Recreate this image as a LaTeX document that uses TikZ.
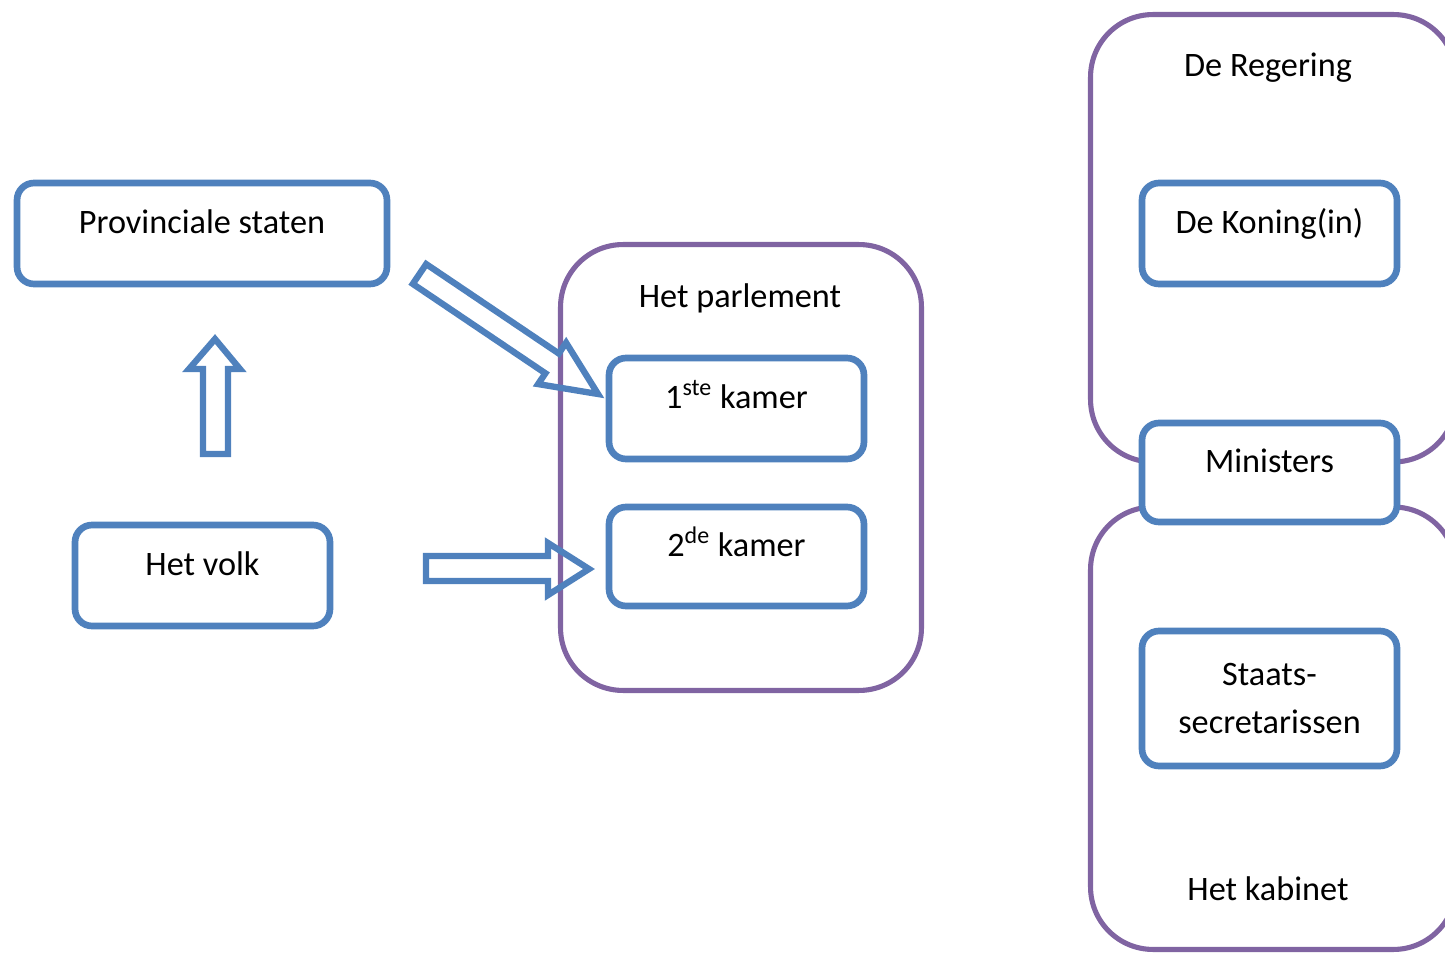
\documentclass[tikz,border=0pt]{standalone}
\usepackage{fontspec}
\setmainfont{Carlito}
\definecolor{kaderblauw}{RGB}{79,129,189}
\definecolor{kaderpaars}{RGB}{128,100,162}
\tikzset{
    vak/.style={draw=kaderblauw, line width=3.8pt, rounded corners=0.34cm, fill=white,
        minimum width=5.1cm, minimum height=2.02cm, inner sep=0pt},
    regel/.style={text height=1.6ex, text depth=1.6ex},
    groep/.style={draw=kaderpaars, line width=2.9pt, rounded corners=1.25cm, inner sep=0pt},
    blokpijl/.style={draw=kaderblauw, line width=3.6pt, line join=miter}
}
\begin{document}
\begin{tikzpicture}[x=0.02cm, y=-0.02cm, font=\fontsize{19.5}{27}\selectfont]
    \useasboundingbox (0,0) rectangle (1445,956);

    % Draw the purple groups
    \node[groep, minimum width=7.22cm, minimum height=8.92cm] (parlement) at (741,467.5) {};
    \node[groep, minimum width=7.31cm, minimum height=8.95cm] (regering) at (1273.25,238.25) {};
    \node[groep, minimum width=7.31cm, minimum height=8.85cm] (kabinet) at (1273.25,728.25) {};

    % Group titles
    \node[anchor=base] (parlementtitel) at (740,308) {Het parlement};
    \node[anchor=base] (regeringtitel) at (1268,77) {De Regering};
    \node[anchor=base] (kabinettitel) at (1268,900) {Het kabinet};

    % Draw the blue boxes
    \node[vak, regel, minimum width=7.4cm] (provincie) at (202,233.5) {Provinciale staten};
    \node[vak, regel] (volk) at (202.5,575.5) {Het volk};
    \node[vak, regel] (kamereen) at (736.5,408.5) {1\textsuperscript{ste} kamer};
    \node[vak, regel, minimum height=1.98cm] (kamertwee) at (736.5,556.5) {2\textsuperscript{de} kamer};
    \node[vak, regel] (koning) at (1269.5,233.5) {De Koning(in)};
    \node[vak, regel, minimum height=1.98cm] (ministers) at (1269.5,472.5) {Ministers};
    \node[vak, align=center, minimum height=2.7cm] (staats) at (1269.5,698.5) {Staats-\\secretarissen};

    % Block arrows
    \draw[blokpijl] (203,454) -- (203,369) -- (189,369) -- (215,339) -- (240,369)
        -- (228,369) -- (228,454) -- cycle;
    \draw[blokpijl] (426,556) -- (548,556) -- (548,543) -- (589,569) -- (548,595)
        -- (548,581) -- (426,581) -- cycle;
    \draw[blokpijl] (426.2,264.1) -- (558.8,353.5) -- (566.1,342.7) -- (598,394)
        -- (538.1,384.1) -- (545.4,373.3) -- (412.8,283.9) -- cycle;
\end{tikzpicture}
\end{document}
